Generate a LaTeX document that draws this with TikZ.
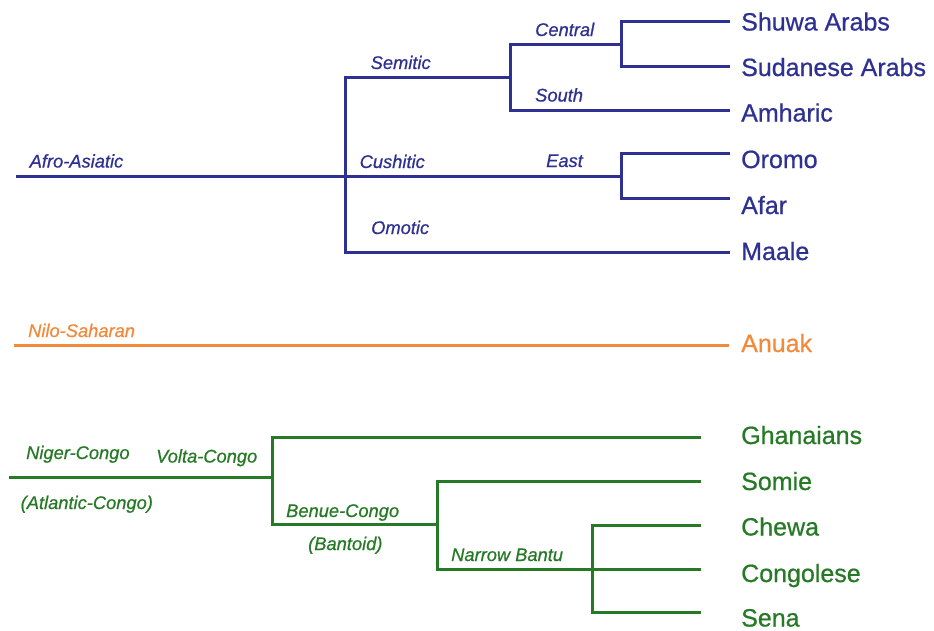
\documentclass[tikz,border=0pt]{standalone}
\usepackage{fontspec}
\setmainfont{Liberation Sans}
\newfontfamily\heavyfont[FakeBold=0.7]{Liberation Sans}
\definecolor{aablue}{RGB}{46,49,146}
\definecolor{nsorange}{RGB}{242,138,60}
\definecolor{ncgreen}{RGB}{38,122,38}
\tikzset{
  branch/.style={line width=3pt, line cap=butt, line join=miter},
  grp/.style={inner sep=0pt, anchor=base west, font=\heavyfont\fontsize{18.3}{20}\selectfont\itshape},
  leaf/.style={inner sep=0pt, anchor=base west, font=\heavyfont\fontsize{25}{28}\selectfont},
}
\begin{document}
\begin{tikzpicture}[x=1pt,y=-1pt]
\useasboundingbox (0,0) rectangle (934,630);
% ---------- Afro-Asiatic ----------
\begin{scope}[color=aablue, every node/.append style={text=aablue}]
\coordinate (aaRoot) at (16,176);
\coordinate (aaJ) at (345,176);
\coordinate (semJ) at (510,77);
\coordinate (cenJ) at (621,44);
\coordinate (eastJ) at (621,176);
\coordinate (shuwaE) at (730,21);
\coordinate (sudanE) at (730,66);
\coordinate (amharE) at (730,110);
\coordinate (oromoE) at (730,153);
\coordinate (afarE) at (730,198);
\coordinate (maaleE) at (730,252);
\draw[branch] (shuwaE) -| (cenJ) |- (sudanE);
\draw[branch] (cenJ) -| (semJ) |- (amharE);
\draw[branch] (semJ) -| (aaJ) |- (maaleE);
\draw[branch] (aaRoot) -- (eastJ);
\draw[branch] (oromoE) -| (eastJ) |- (afarE);
\node[grp] (lAA) at (29.5,167.5) {Afro-Asiatic};
\node[grp] (lSem) at (370.5,69) {Semitic};
\node[grp] (lCus) at (359.5,168) {Cushitic};
\node[grp] (lOmo) at (371,234) {Omotic};
\node[grp] (lCen) at (535,36) {Central};
\node[grp] (lSou) at (535,101.5) {South};
\node[grp] (lEas) at (546,167) {East};
\node[leaf] (shuwa) at (741,30.5) {Shuwa Arabs};
\node[leaf] (sudan) at (741,76) {Sudanese Arabs};
\node[leaf] (amhar) at (741,121.5) {Amharic};
\node[leaf] (oromo) at (741,168) {Oromo};
\node[leaf] (afar) at (741,214) {Afar};
\node[leaf] (maale) at (741,260) {Maale};
\end{scope}
% ---------- Nilo-Saharan ----------
\begin{scope}[color=nsorange, every node/.append style={text=nsorange}]
\coordinate (nsRoot) at (14,345);
\coordinate (anuakE) at (729,345);
\draw[branch] (nsRoot) -- (anuakE);
\node[grp] (lNS) at (28,337) {Nilo-Saharan};
\node[leaf] (anuak) at (741,352) {Anuak};
\end{scope}
% ---------- Niger-Congo ----------
\begin{scope}[color=ncgreen, every node/.append style={text=ncgreen}]
\coordinate (ncRoot) at (9,477);
\coordinate (vcJ) at (272,477);
\coordinate (bcJ) at (437,524);
\coordinate (nbJ) at (592,569);
\coordinate (ghanE) at (701,437);
\coordinate (somieE) at (701,481);
\coordinate (chewaE) at (701,525);
\coordinate (congoE) at (701,569);
\coordinate (senaE) at (701,612);
\draw[branch] (ncRoot) -- (vcJ);
\draw[branch] (ghanE) -| (vcJ) |- (bcJ);
\draw[branch] (somieE) -| (bcJ) |- (nbJ);
\draw[branch] (chewaE) -| (nbJ) |- (senaE);
\draw[branch] (nbJ) -- (congoE);
\node[grp] (lNC) at (26,459) {Niger-Congo};
\node[grp] (lAC) at (20.5,509) {(Atlantic-Congo)};
\node[grp] (lVC) at (156,462.5) {Volta-Congo};
\node[grp] (lBC) at (286,517) {Benue-Congo};
\node[grp] (lBa) at (308,550) {(Bantoid)};
\node[grp] (lNB) at (451,561) {Narrow Bantu};
\node[leaf] (ghan) at (741,444) {Ghanaians};
\node[leaf] (somie) at (741,490) {Somie};
\node[leaf] (chewa) at (741,535.5) {Chewa};
\node[leaf] (congo) at (741,582) {Congolese};
\node[leaf] (sena) at (741,626.5) {Sena};
\end{scope}
\end{tikzpicture}
\end{document}
